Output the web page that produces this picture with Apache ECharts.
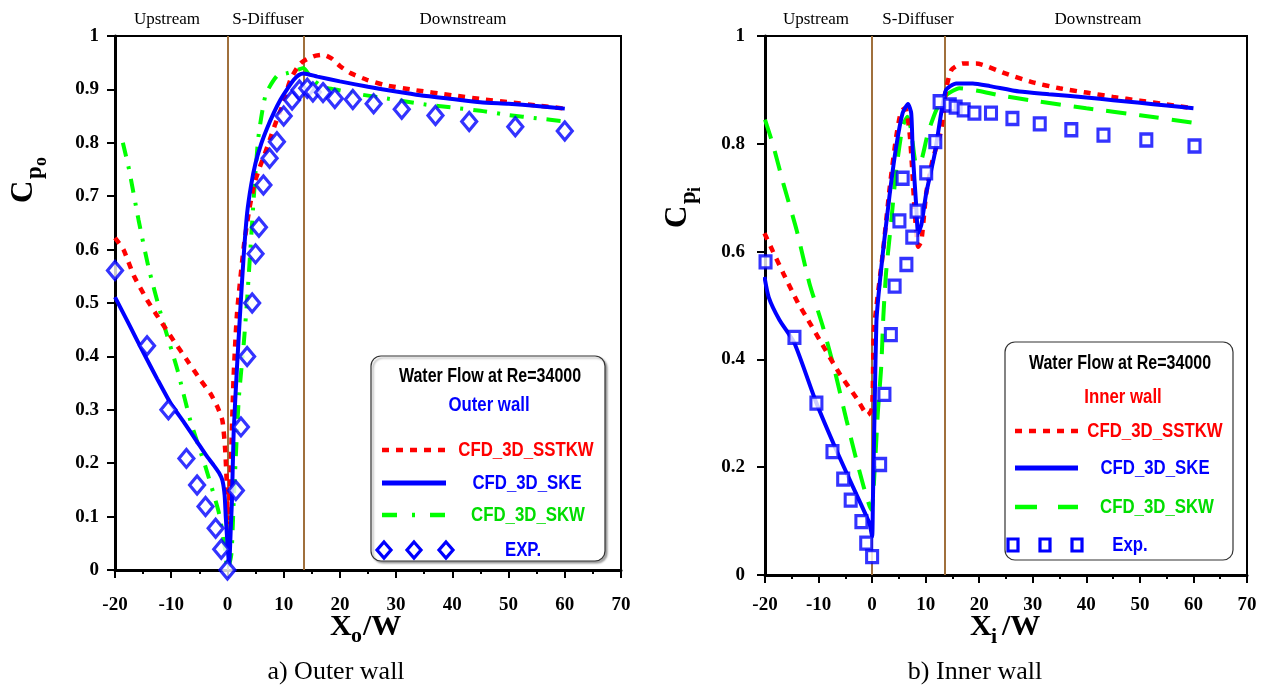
<!DOCTYPE html>
<html><head><meta charset="utf-8">
<script src="https://cdn.jsdelivr.net/npm/echarts@6/dist/echarts.min.js"></script>
<style>html,body{margin:0;padding:0;background:#fff}#c{width:1266px;height:689px}</style>
</head><body><div id="c"></div>
<script>
// ---------- DATA ----------
const sectionBounds = [0, 13.5];
const sectionNames = ['Upstream', 'S-Diffuser', 'Downstream'];

// Outer wall (a)
const outerSSTKW = [[-20,0.622],[-18.5,0.6],[-16.6,0.55],[-14.3,0.506],[-12.8,0.481],[-9.6,0.43],[-7,0.39],[-4.8,0.356],[-3,0.33],[-1.8,0.306],[-0.9,0.28],[-0.4,0.225],[-0.1,0.156],[0.1,0.09],[0.3,0.12],[0.6,0.2],[1.1,0.362],[1.7,0.48],[2.9,0.605],[3.8,0.67],[4.7,0.72],[5.6,0.75],[6.5,0.775],[7.5,0.805],[8.5,0.835],[9.7,0.868],[11.2,0.918],[13,0.949],[15.3,0.962],[17,0.965],[18.5,0.958],[20.1,0.943],[22,0.93],[24.8,0.918],[28,0.908],[33.1,0.899],[40,0.889],[45,0.882],[50,0.876],[55,0.87],[60,0.864]];
const outerSKE = [[-20,0.511],[-17.5,0.46],[-14.9,0.406],[-12.5,0.358],[-10.1,0.312],[-7.7,0.276],[-5.4,0.24],[-3.8,0.215],[-2.5,0.197],[-1.5,0.182],[-0.9,0.168],[-0.5,0.14],[-0.3,0.1],[0,0.05],[0.3,0.01],[0.6,0.08],[0.8,0.13],[1.1,0.256],[1.7,0.38],[2.3,0.49],[2.9,0.59],[3.5,0.668],[4.2,0.72],[5,0.762],[6,0.798],[7,0.826],[8.2,0.855],[9.4,0.88],[10.6,0.9],[11.8,0.918],[12.7,0.927],[13.5,0.93],[16,0.924],[20,0.915],[25,0.905],[30,0.896],[34.3,0.889],[40,0.882],[45,0.876],[50,0.873],[55,0.869],[60,0.864]];
const outerSKW = [[-18.6,0.8],[-17.5,0.75],[-15.8,0.655],[-14,0.565],[-11.6,0.47],[-8.9,0.375],[-6.6,0.28],[-3.9,0.193],[-1.5,0.106],[-0.4,0.037],[0,0],[0.7,0.03],[1.1,0.125],[2,0.318],[2.9,0.424],[3.5,0.506],[4.7,0.7],[5.5,0.81],[6.8,0.89],[8.8,0.925],[10.5,0.93],[12.4,0.936],[13.5,0.94],[15,0.92],[17,0.905],[20.1,0.898],[24,0.89],[28.4,0.883],[35,0.872],[40,0.866],[45,0.86],[50,0.852],[55,0.846],[60,0.84]];
const outerEXP = [[-20,0.561],[-14.3,0.42],[-10.5,0.3],[-7.3,0.209],[-5.4,0.159],[-3.9,0.119],[-2.1,0.078],[-1.1,0.039],[0,0],[1.5,0.149],[2.4,0.268],[3.5,0.4],[4.4,0.5],[5,0.592],[5.6,0.642],[6.4,0.721],[7.5,0.771],[8.8,0.802],[10,0.85],[11.5,0.88],[12.8,0.899],[14.2,0.902],[15.2,0.895],[17,0.894],[19.1,0.883],[22.3,0.881],[26,0.873],[31,0.863],[37,0.851],[43,0.84],[51.2,0.83],[60,0.822]];

// Inner wall (b)
const innerSSTKW = [[-20.1,0.634],[-18.5,0.6],[-16.6,0.56],[-13.8,0.504],[-12.3,0.479],[-9.8,0.436],[-6.1,0.374],[-2.9,0.328],[-0.8,0.297],[0,0.31],[0.3,0.448],[0.8,0.498],[2,0.597],[3.3,0.72],[4.5,0.813],[5.4,0.86],[6.2,0.866],[7,0.82],[7.5,0.751],[7.9,0.683],[8.6,0.609],[9.2,0.62],[10.1,0.708],[11.3,0.77],[12.9,0.826],[13.8,0.9],[14.8,0.937],[16.9,0.949],[19.4,0.949],[25,0.93],[30,0.914],[35,0.903],[40,0.895],[45,0.887],[50,0.88],[55,0.873],[60,0.866]];
const innerSKE = [[-20.1,0.553],[-19.3,0.515],[-17.3,0.473],[-14.5,0.43],[-10.4,0.319],[-6.7,0.232],[-3.6,0.164],[-0.5,0.096],[0,0.071],[0.15,0.139],[0.5,0.325],[0.8,0.47],[1.2,0.52],[2,0.597],[3.3,0.708],[4.5,0.795],[5.7,0.857],[6.7,0.874],[7.3,0.857],[7.6,0.782],[8.2,0.69],[8.6,0.634],[9.2,0.65],[10.1,0.708],[11.7,0.782],[12.9,0.857],[13.8,0.9],[15.7,0.912],[18.8,0.912],[22,0.907],[27.5,0.897],[33,0.892],[40,0.886],[45,0.881],[50,0.876],[55,0.871],[60,0.866]];
const innerSKW = [[-20,0.845],[-18.5,0.798],[-16.6,0.727],[-14.1,0.64],[-11.7,0.541],[-9.2,0.461],[-7,0.38],[-4.8,0.288],[-2.6,0.201],[-0.15,0.121],[0.5,0.2],[1.1,0.306],[1.7,0.386],[2.1,0.48],[2.6,0.56],[3.6,0.659],[4.5,0.751],[5.7,0.832],[6.6,0.85],[7.2,0.83],[7.6,0.8],[8.2,0.764],[8.9,0.764],[10.4,0.819],[12,0.863],[13.8,0.89],[16.3,0.903],[20,0.898],[23.8,0.89],[30,0.88],[40,0.866],[50,0.853],[60,0.839]];
const innerEXP = [[-19.9,0.581],[-14.5,0.441],[-10.4,0.319],[-7.4,0.229],[-5.4,0.178],[-4,0.139],[-2,0.099],[-1.1,0.059],[0,0.034],[1.5,0.205],[2.3,0.335],[3.5,0.446],[4.2,0.536],[5.1,0.657],[5.7,0.736],[6.4,0.576],[7.5,0.627],[8.3,0.675],[10.1,0.746],[11.8,0.804],[12.6,0.878],[14.5,0.872],[15.6,0.868],[17.1,0.863],[19.1,0.857],[22.2,0.857],[26.2,0.847],[31.3,0.837],[37.2,0.826],[43.2,0.816],[51.2,0.807],[60.2,0.796]];

const legendNames = ['CFD_3D_SSTKW', 'CFD_3D_SKE', 'CFD_3D_SKW'];

// ---------- STYLE ----------
const RED = '#FF0000', BLUE = '#0000FF', GREEN = '#00FF00', GREEN_T = '#00DD00', BROWN = '#A0703C';
const SERIF = "'Liberation Serif','Times New Roman',serif";
const NARROW = "'Liberation Sans Narrow','Arial Narrow','Liberation Sans',sans-serif";

const chart = echarts.init(document.getElementById('c'), null, {renderer: 'canvas'});

function xAxisCfg(gi, margin) {
  return {
    gridIndex: gi, type: 'value', min: -20, max: 70, interval: 10,
    axisLine: {show: true, onZero: false, lineStyle: {color: '#000', width: 3}},
    axisTick: {show: true, inside: false, length: 8, lineStyle: {color: '#000', width: 2}},
    minorTick: {show: true, splitNumber: 2, length: 4, lineStyle: {color: '#000', width: 2}},
    splitLine: {show: false},
    axisLabel: {color: '#000', fontFamily: SERIF, fontWeight: 'bold', fontSize: 19, margin: margin}
  };
}
function yAxisCfg(gi, interval, fmt, margin) {
  return {
    gridIndex: gi, type: 'value', min: 0, max: 1, interval: interval,
    axisLine: {show: true, onZero: false, lineStyle: {color: '#000', width: 3}},
    axisTick: {show: true, inside: false, length: 8, lineStyle: {color: '#000', width: 2}},
    splitLine: {show: false},
    axisLabel: {color: '#000', fontFamily: SERIF, fontWeight: 'bold', fontSize: 19, margin: margin, formatter: fmt}
  };
}
const fmt = v => String(Math.round(v * 10) / 10);

function lineSeries(gi, data, color, dash, width, withMarks) {
  const s = {
    type: 'line', xAxisIndex: gi, yAxisIndex: gi, data: data, showSymbol: false, symbol: 'none',
    smooth: 0.2, lineStyle: {color: color, width: width, type: dash}, silent: true, animation: false, z: 3
  };
  if (withMarks) {
    s.markLine = {
      silent: true, symbol: ['none', 'none'], label: {show: false},
      lineStyle: {color: BROWN, width: 2, type: 'solid'},
      data: sectionBounds.map(b => ({xAxis: b})), animation: false, z: 1
    };
  }
  return s;
}
function expSeries(gi, data, symbol, size) {
  return {
    type: 'scatter', xAxisIndex: gi, yAxisIndex: gi, data: data, symbol: symbol, symbolSize: size,
    itemStyle: {color: '#fff', borderColor: BLUE, borderWidth: 3.2}, silent: true, animation: false, z: 4
  };
}

function txt(x, y, text, font, fill, align, sx) {
  const t = {type: 'text', x: x, y: y, silent: true,
    style: {text: text, font: font, fill: fill || '#000', align: align || 'center', verticalAlign: 'middle'}};
  if (sx) t.scaleX = sx;
  return t;
}
function legLine(x1, x2, y, color, dash, w) {
  return {type: 'line', silent: true, shape: {x1: x1, y1: y, x2: x2, y2: y},
    style: {stroke: color, lineWidth: w, lineDash: dash}};
}
function diamond(cx, cy) {
  return {type: 'polygon', silent: true, shape: {points: [[cx, cy - 8], [cx + 7, cy], [cx, cy + 8], [cx - 7, cy]]},
    style: {fill: '#fff', stroke: BLUE, lineWidth: 3.2}};
}
function square(cx, cy) {
  return {type: 'rect', silent: true, shape: {x: cx - 5, y: cy - 6, width: 10, height: 12},
    style: {fill: '#fff', stroke: BLUE, lineWidth: 3.2}};
}

const secFont = '17px ' + SERIF;
const legTitleFont = 'bold 20px ' + NARROW;
const legFont = 'bold 21px ' + NARROW;
const SX = 0.8;

const graphics = [
  // section labels
  txt(167, 20, sectionNames[0], secFont), txt(268, 20, sectionNames[1], secFont), txt(463, 20, sectionNames[2], secFont),
  txt(816, 20, sectionNames[0], secFont), txt(918, 20, sectionNames[1], secFont), txt(1098, 20, sectionNames[2], secFont),
  // captions
  txt(336, 672, 'a) Outer wall', '26px ' + SERIF), txt(975, 672, 'b) Inner wall', '26px ' + SERIF),
  // x axis names
  txt(330, 627, 'X', 'bold 30px ' + SERIF, '#000', 'left'),
  txt(351, 636, 'o', 'bold 22px ' + SERIF, '#000', 'left'),
  txt(363, 627, '/W', 'bold 30px ' + SERIF, '#000', 'left'),
  txt(970, 627, 'X', 'bold 30px ' + SERIF, '#000', 'left'),
  txt(991, 637, 'i', 'bold 22px ' + SERIF, '#000', 'left'),
  txt(1002, 627, '/W', 'bold 30px ' + SERIF, '#000', 'left'),
  // y axis names (rotated)
  {type: 'group', x: 24, y: 203, rotation: Math.PI / 2, children: [
    txt(0, 0, 'C', 'bold 31px ' + SERIF, '#000', 'left'),
    txt(24, 11, 'p', 'bold 23px ' + SERIF, '#000', 'left'),
    txt(37, 17, 'o', 'bold 18px ' + SERIF, '#000', 'left')
  ]},
  {type: 'group', x: 678, y: 228, rotation: Math.PI / 2, children: [
    txt(0, 0, 'C', 'bold 31px ' + SERIF, '#000', 'left'),
    txt(24, 11, 'p', 'bold 23px ' + SERIF, '#000', 'left'),
    txt(36, 17, 'i', 'bold 18px ' + SERIF, '#000', 'left')
  ]},
  // left legend box
  {type: 'rect', silent: true, shape: {x: 371, y: 356, width: 234, height: 205, r: 10},
    style: {fill: '#fff', stroke: '#333', lineWidth: 1.2, shadowColor: 'rgba(0,0,0,0.35)', shadowOffsetX: 2, shadowOffsetY: 2, shadowBlur: 2}, z: 10},
  txt(490, 376, 'Water Flow at Re=34000', legTitleFont, '#000', 'center', SX),
  txt(489, 405, 'Outer wall', legFont, BLUE, 'center', SX),
  legLine(382, 446, 450, RED, [7, 7], 4.5), txt(526, 450, legendNames[0], legFont, RED, 'center', SX),
  legLine(382, 446, 483, BLUE, null, 5), txt(527, 483, legendNames[1], legFont, BLUE, 'center', SX),
  legLine(382, 446, 515, GREEN, [15, 15, 3, 15], 4.5), txt(528, 515, legendNames[2], legFont, GREEN_T, 'center', SX),
  diamond(384, 550), diamond(414, 550), diamond(446, 550), txt(523, 550, 'EXP.', legFont, BLUE, 'center', SX),
  // right legend box
  {type: 'rect', silent: true, shape: {x: 1005, y: 342, width: 228, height: 218, r: 10},
    style: {fill: '#fff', stroke: '#333', lineWidth: 1.2}, z: 10},
  txt(1120, 363, 'Water Flow at Re=34000', legTitleFont, '#000', 'center', SX),
  txt(1123, 397, 'Inner wall', legFont, RED, 'center', SX),
  legLine(1015, 1078, 431, RED, [7, 7], 4.5), txt(1155, 431, legendNames[0], legFont, RED, 'center', SX),
  legLine(1015, 1078, 468, BLUE, null, 5), txt(1155, 468, legendNames[1], legFont, BLUE, 'center', SX),
  legLine(1015, 1078, 507, GREEN, [22, 21], 4.5), txt(1157, 507, legendNames[2], legFont, GREEN_T, 'center', SX),
  square(1013, 545), square(1045, 545), square(1077, 545), txt(1130, 545, 'Exp.', legFont, BLUE, 'center', SX)
];
graphics.forEach(g => { if (g.z === undefined) g.z = 11; });

chart.setOption({
  animation: false,
  backgroundColor: '#fff',
  grid: [
    {left: 115, right: 645, top: 36, bottom: 119, show: true, borderColor: '#000', borderWidth: 2, backgroundColor: 'transparent'},
    {left: 765, right: 19, top: 36, bottom: 114, show: true, borderColor: '#000', borderWidth: 2, backgroundColor: 'transparent'}
  ],
  xAxis: [xAxisCfg(0, 26), xAxisCfg(1, 21)],
  yAxis: [yAxisCfg(0, 0.1, fmt, 16), yAxisCfg(1, 0.2, fmt, 20)],
  series: [
    lineSeries(0, outerSKW, GREEN, [14, 10, 3, 10], 4, true),
    lineSeries(0, outerSSTKW, RED, [7, 7], 4.5, false),
    lineSeries(0, outerSKE, BLUE, 'solid', 4, false),
    expSeries(0, outerEXP, 'diamond', [15, 18]),
    lineSeries(1, innerSKW, GREEN, [20, 13], 4, true),
    lineSeries(1, innerSSTKW, RED, [7, 7], 4.5, false),
    lineSeries(1, innerSKE, BLUE, 'solid', 4, false),
    expSeries(1, innerEXP, 'rect', [11, 12])
  ],
  graphic: {elements: graphics}
});
</script></body></html>
